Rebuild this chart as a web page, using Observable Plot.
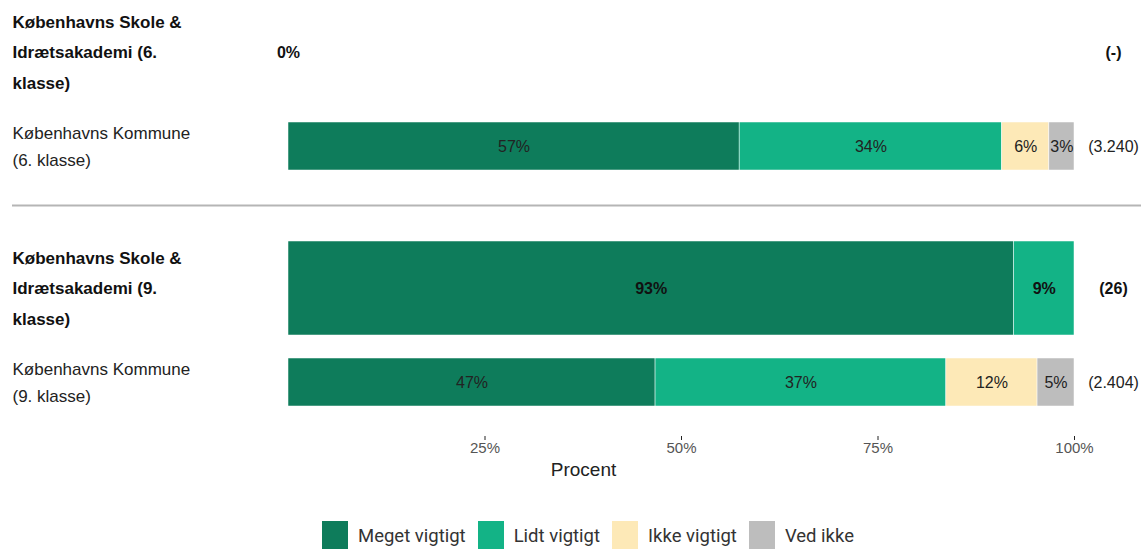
<!DOCTYPE html>
<html>
<head>
<meta charset="utf-8">
<script src="https://cdn.jsdelivr.net/npm/d3@7"></script>
<script src="https://cdn.jsdelivr.net/npm/@observablehq/plot@0.6"></script>
<style>
  html, body { margin: 0; padding: 0; background: #fff; }
  #chart { width: 1141px; }
  .lg-swatch { margin-right: 12px !important; }
  .lg-swatch > svg { margin-right: 10px !important; }
</style>
</head>
<body>
<div id="chart"></div>
<script>
// ---- data ----
const grades = ["6. klasse", "9. klasse"];
const rowTypes = ["skole", "kommune"];
const categories = ["Meget vigtigt", "Lidt vigtigt", "Ikke vigtigt", "Ved ikke"];
const colors = ["#0e7c5b", "#13b386", "#fde9b7", "#bdbdbd"];

const rowNames = [
  "Københavns Skole &\nIdrætsakademi (6.\nklasse)",
  "Københavns Kommune\n(6. klasse)",
  "Københavns Skole &\nIdrætsakademi (9.\nklasse)",
  "Københavns Kommune\n(9. klasse)"
];
const rowGrade = ["6. klasse", "6. klasse", "9. klasse", "9. klasse"];
const rowType = ["skole", "kommune", "skole", "kommune"];
const rowCounts = ["(-)", "(3.240)", "(26)", "(2.404)"];

const skole6Values = [0, 0, 0, 0];
const skole6Labels = ["0%", "", "", ""];
const kommune6Values = [57.4, 33.4, 6.0, 3.2];
const kommune6Labels = ["57%", "34%", "6%", "3%"];
const skole9Values = [92.3, 7.7, 0, 0];
const skole9Labels = ["93%", "9%", "", ""];
const kommune9Values = [46.7, 37.0, 11.6, 4.7];
const kommune9Labels = ["47%", "37%", "12%", "5%"];

const xTicks = [25, 50, 75, 100];
const xLabel = "Procent";

// ---- build table ----
const seriesValues = [skole6Values, kommune6Values, skole9Values, kommune9Values];
const seriesLabels = [skole6Labels, kommune6Labels, skole9Labels, kommune9Labels];
const data = [];
seriesValues.forEach((vals, r) => {
  vals.forEach((v, i) => data.push({
    grade: rowGrade[r], type: rowType[r], category: categories[i], value: v, label: seriesLabels[r][i]
  }));
});
const rows = rowNames.map((n, r) => ({grade: rowGrade[r], type: rowType[r], name: n, count: rowCounts[r]}));
const skoleData = data.filter(d => d.type === "skole");
const kommuneData = data.filter(d => d.type === "kommune");
const skoleRows = rows.filter(d => d.type === "skole");
const kommuneRows = rows.filter(d => d.type === "kommune");
const fontFam = "'Liberation Sans', Arial, sans-serif";

const plot = Plot.plot({
  width: 1141,
  height: 512,
  marginLeft: 288,
  marginRight: 67,
  marginTop: 5,
  marginBottom: 83,
  style: {fontFamily: fontFam, background: "#fff"},
  x: {domain: [0, 100]},
  y: {domain: rowTypes, padding: 0, axis: null},
  fy: {domain: grades, paddingInner: 48 / 236, paddingOuter: 0, axis: null},
  color: {domain: categories, range: colors},
  marks: [
    Plot.barX(skoleData, Plot.stackX({x: "value", y: "type", fy: "grade", fill: "category", order: categories, stroke: "#fff", strokeWidth: 0.5})),
    Plot.barX(kommuneData, Plot.stackX({x: "value", y: "type", fy: "grade", fill: "category", order: categories, insetTop: 23, insetBottom: 23, stroke: "#fff", strokeWidth: 0.5})),
    Plot.text(skoleData, Plot.stackX({x: "value", y: "type", fy: "grade", z: "category", text: "label", order: categories, fontSize: 16, fontWeight: "bold", fill: "#111"})),
    Plot.text(kommuneData, Plot.stackX({x: "value", y: "type", fy: "grade", z: "category", text: "label", order: categories, fontSize: 16, fill: "#222"})),
    Plot.text(skoleRows, {y: "type", fy: "grade", text: "name", frameAnchor: "left", textAnchor: "start", dx: -276, dy: -4,
      fontSize: 17, fill: "#111", fontWeight: "bold", lineHeight: 1.8}),
    Plot.text(kommuneRows, {y: "type", fy: "grade", text: "name", frameAnchor: "left", textAnchor: "start", dx: -276, dy: -3,
      fontSize: 17, fill: "#222", lineHeight: 1.6}),
    Plot.text(skoleRows, {y: "type", fy: "grade", text: "count", frameAnchor: "right", textAnchor: "middle", dx: 39,
      fontSize: 16, fill: "#111", fontWeight: "bold"}),
    Plot.text(kommuneRows, {y: "type", fy: "grade", text: "count", frameAnchor: "right", textAnchor: "middle", dx: 39,
      fontSize: 16, fill: "#222"}),
    Plot.ruleY(kommuneRows.filter(d => d.grade === grades[0]), {y: "type", fy: "grade", dy: 59,
      insetLeft: -276, insetRight: -67, stroke: "#b5b5b5", strokeWidth: 2}),
    Plot.axisX({ticks: xTicks, tickFormat: d => d + "%", tickSize: 4, dy: 7, tickPadding: 2, fontSize: 15,
      color: "#555", stroke: "#222", label: null}),
    Plot.text([xLabel], {frameAnchor: "bottom", text: d => d, dx: -98, dy: 46, fontSize: 19, fill: "#222",
      fy: () => grades[1]})
  ]
});

document.getElementById("chart").appendChild(plot);

const legend = Plot.legend({
  color: {domain: categories, range: colors},
  swatchWidth: 26, swatchHeight: 30,
  className: "lg",
  style: {fontFamily: "Roboto, 'Liberation Sans', sans-serif", fontSize: "18.5px", color: "#333", marginLeft: "322px", marginTop: "7px"}
});
document.getElementById("chart").appendChild(legend);
</script>
</body>
</html>
